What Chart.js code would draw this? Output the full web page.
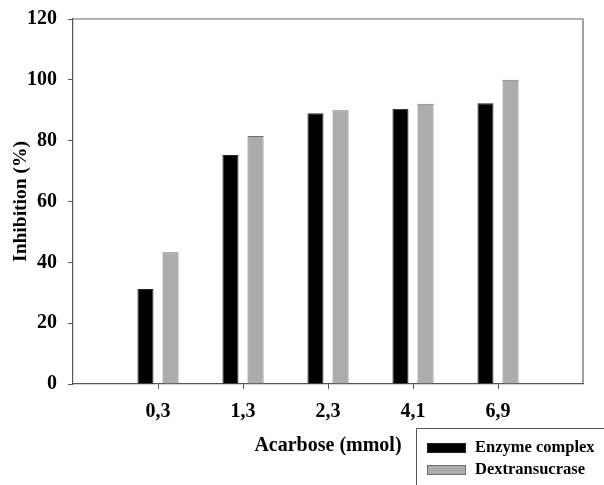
<!DOCTYPE html>
<html>
<head>
<meta charset="utf-8">
<script src="https://cdn.jsdelivr.net/npm/chart.js@4/dist/chart.umd.min.js"></script>
<style>
  html, body { margin: 0; padding: 0; background: #fff; }
  #wrap { width: 604px; height: 485px; }
</style>
</head>
<body>
<div id="wrap"><canvas id="inhibitionChart" width="604" height="485"></canvas></div>
<script>
const categories = ["0,3", "1,3", "2,3", "4,1", "6,9"];
const enzymeComplex = [31.2, 75.3, 89.0, 90.5, 92.3];
const dextransucrase = [43.3, 81.5, 90.0, 92.1, 100.0];
const yTicks = [0, 20, 40, 60, 80, 100, 120];

// empty slot at each end, like the original axis
const labels = [""].concat(categories, [""]);
const pad = arr => [null].concat(arr, [null]);

const serif = "'Liberation Serif', 'Times New Roman', serif";

const frame = {
    id: "frame",
    afterDraw(chart) {
        const a = chart.chartArea;
        const ctx = chart.ctx;
        ctx.save();
        ctx.strokeStyle = "#666";
        ctx.lineWidth = 1.2;
        ctx.beginPath();
        ctx.moveTo(a.left, a.top);
        ctx.lineTo(a.right, a.top);
        ctx.lineTo(a.right, a.bottom);
        ctx.stroke();

        // legend box at bottom right
        const bx = 416, by = 428;
        ctx.strokeStyle = "#555";
        ctx.lineWidth = 1;
        ctx.beginPath();
        ctx.moveTo(bx + 0.5, 485);
        ctx.lineTo(bx + 0.5, by + 0.5);
        ctx.lineTo(604, by + 0.5);
        ctx.stroke();
        ctx.font = "bold 16.5px " + serif;
        ctx.textBaseline = "middle";
        chart.data.datasets.forEach((ds, i) => {
            const y = 443 + i * 22;
            ctx.fillStyle = ds.backgroundColor;
            ctx.fillRect(427, y, 39, 10);
            ctx.strokeStyle = ds.borderColor;
            ctx.strokeRect(427.5, y + 0.5, 38, 9);
            ctx.fillStyle = "#000";
            ctx.fillText(ds.label, 475, y + 5);
        });
        ctx.restore();
    }
};

new Chart(document.getElementById("inhibitionChart").getContext("2d"), {
    type: "bar",
    data: {
        labels: labels,
        datasets: [{
            label: "Enzyme complex",
            data: pad(enzymeComplex),
            backgroundColor: "#000000",
            borderColor: "#222222",
            borderWidth: 1,
            categoryPercentage: 0.59,
            barPercentage: 0.64
        }, {
            label: "Dextransucrase",
            data: pad(dextransucrase),
            backgroundColor: "#acacac",
            borderColor: "#6e6e6e",
            borderWidth: 1,
            categoryPercentage: 0.59,
            barPercentage: 0.64
        }]
    },
    options: {
        responsive: false,
        animation: false,
        layout: { padding: { left: 0, top: 19, right: 21, bottom: 0 } },
        plugins: { legend: { display: false }, tooltip: { enabled: false } },
        scales: {
            x: {
                offset: false,
                afterFit: s => { s.height = 101; s.paddingLeft = 0; s.paddingRight = 0; },
                border: { color: "#555", width: 1.2 },
                grid: {
                    offset: false,
                    drawOnChartArea: false,
                    tickLength: 5,
                    color: c => (c.index === 0 || c.index === labels.length - 1) ? "rgba(0,0,0,0)" : "#555"
                },
                ticks: {
                    color: "#000",
                    padding: 11,
                    maxRotation: 0,
                    autoSkip: false,
                    font: { family: serif, size: 20, weight: "bold" }
                },
                title: {
                    display: true,
                    text: "Acarbose (mmol)",
                    color: "#000",
                    padding: { top: 0, bottom: 27 },
                    font: { family: serif, size: 20, weight: "bold" }
                }
            },
            y: {
                min: 0,
                max: 120,
                afterFit: s => { s.width = 73; s.paddingTop = 0; s.paddingBottom = 0; },
                afterBuildTicks: s => { s.ticks = yTicks.map(v => ({ value: v })); },
                border: { color: "#555", width: 1.2 },
                grid: { drawOnChartArea: false, tickLength: 5, color: "#555" },
                ticks: {
                    color: "#000",
                    padding: 11,
                    font: { family: serif, size: 20, weight: "bold" }
                },
                title: {
                    display: true,
                    text: "Inhibition (%)",
                    color: "#000",
                    padding: { top: 9, bottom: 0 },
                    font: { family: serif, size: 19.5, weight: "bold" }
                }
            }
        }
    },
    plugins: [frame]
});
</script>
</body>
</html>
